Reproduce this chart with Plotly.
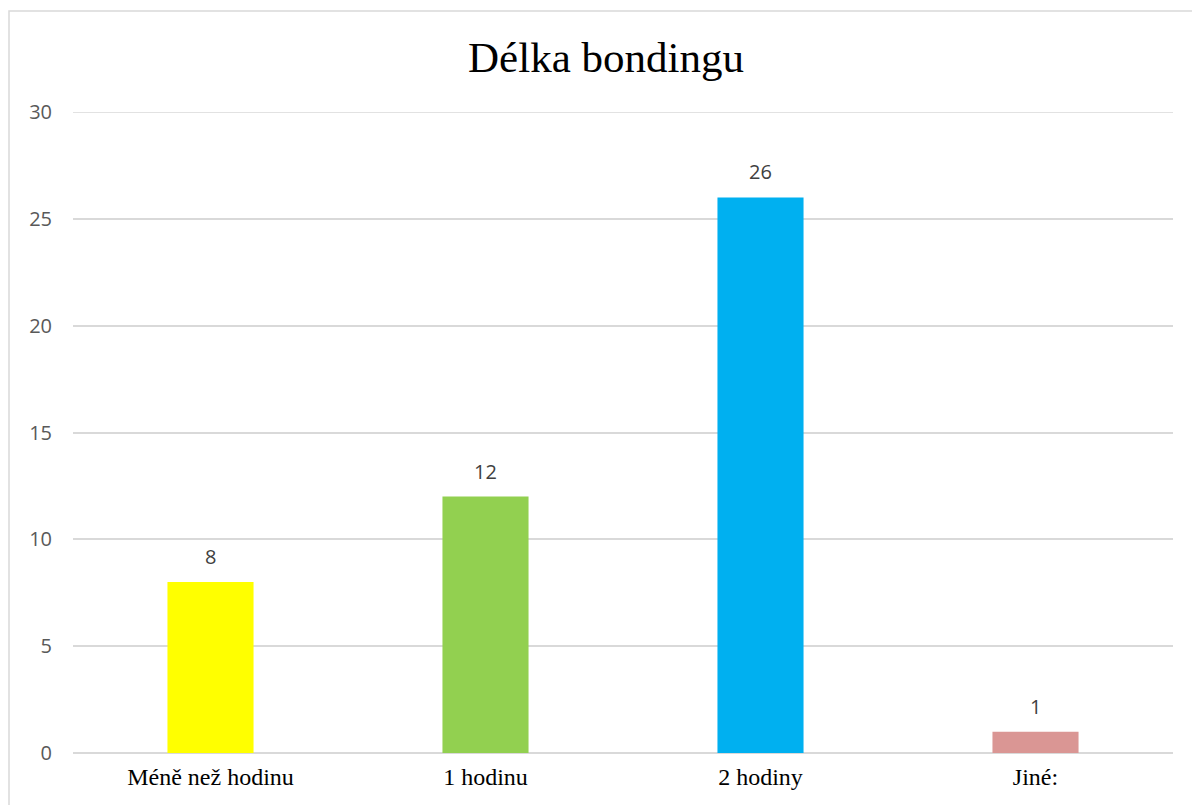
import plotly.graph_objects as go

# Survey answers: how long the bonding lasted
categories = ["Méně než hodinu", "1 hodinu", "2 hodiny", "Jiné:"]
counts = [8, 12, 26, 1]
bar_colors = ["#FFFF00", "#92D050", "#00B0F0", "#DA9694"]
y_ticks = [0, 5, 10, 15, 20, 25, 30]

W, H = 1192, 805
L, R, T, B = 73, 19, 112, 52

fig = go.Figure(
    go.Bar(
        x=categories,
        y=counts,
        marker=dict(color=bar_colors, line=dict(width=0)),
        hoverinfo="skip",
    )
)

# value labels sitting a little above each bar
for cat, val in zip(categories, counts):
    fig.add_annotation(
        x=cat,
        y=val,
        xref="x",
        yref="y",
        text=str(val),
        showarrow=False,
        yanchor="bottom",
        yshift=10,
        font=dict(family="Open Sans, Liberation Sans, sans-serif", size=20, color="#404040"),
    )

plot_w = W - L - R
plot_h = H - T - B

fig.update_layout(
    width=W,
    height=H,
    margin=dict(l=L, r=R, t=T, b=B),
    paper_bgcolor="white",
    plot_bgcolor="white",
    bargap=0.687,
    showlegend=False,
    title=dict(
        text="Délka bondingu",
        font=dict(family="Liberation Serif, Times New Roman, serif", size=43, color="#000000"),
        x=606 / W,
        xanchor="center",
        y=1 - 57 / H,
        yanchor="middle",
    ),
    xaxis=dict(
        type="category",
        showgrid=False,
        showline=False,
        zeroline=False,
        ticks="",
        tickfont=dict(family="Liberation Serif, Times New Roman, serif", size=24, color="#000000"),
        ticklabelstandoff=7,
    ),
    yaxis=dict(
        range=[0, 30],
        tickvals=y_ticks,
        showgrid=True,
        gridcolor="#D9D9D9",
        gridwidth=1.5,
        zeroline=True,
        zerolinecolor="#D9D9D9",
        zerolinewidth=1.5,
        showline=False,
        ticks="",
        tickfont=dict(family="Open Sans, Liberation Sans, sans-serif", size=20, color="#595959"),
        ticklabelstandoff=20,
    ),
    shapes=[
        # outer chart frame
        dict(
            type="rect",
            xref="paper",
            yref="paper",
            x0=(9 - L) / plot_w,
            x1=(W + 20 - L) / plot_w,
            y0=-(B + 20) / plot_h,
            y1=(H - B - 11) / plot_h,
            line=dict(color="#D9D9D9", width=1.5),
            fillcolor="rgba(0,0,0,0)",
            layer="below",
        ),
        # gridline at the top of the value range
        dict(
            type="line",
            xref="paper",
            yref="y",
            x0=0,
            x1=1,
            y0=y_ticks[-1],
            y1=y_ticks[-1],
            line=dict(color="#D9D9D9", width=1.5),
            layer="below",
        ),
    ],
)

fig.write_html("out.html")
